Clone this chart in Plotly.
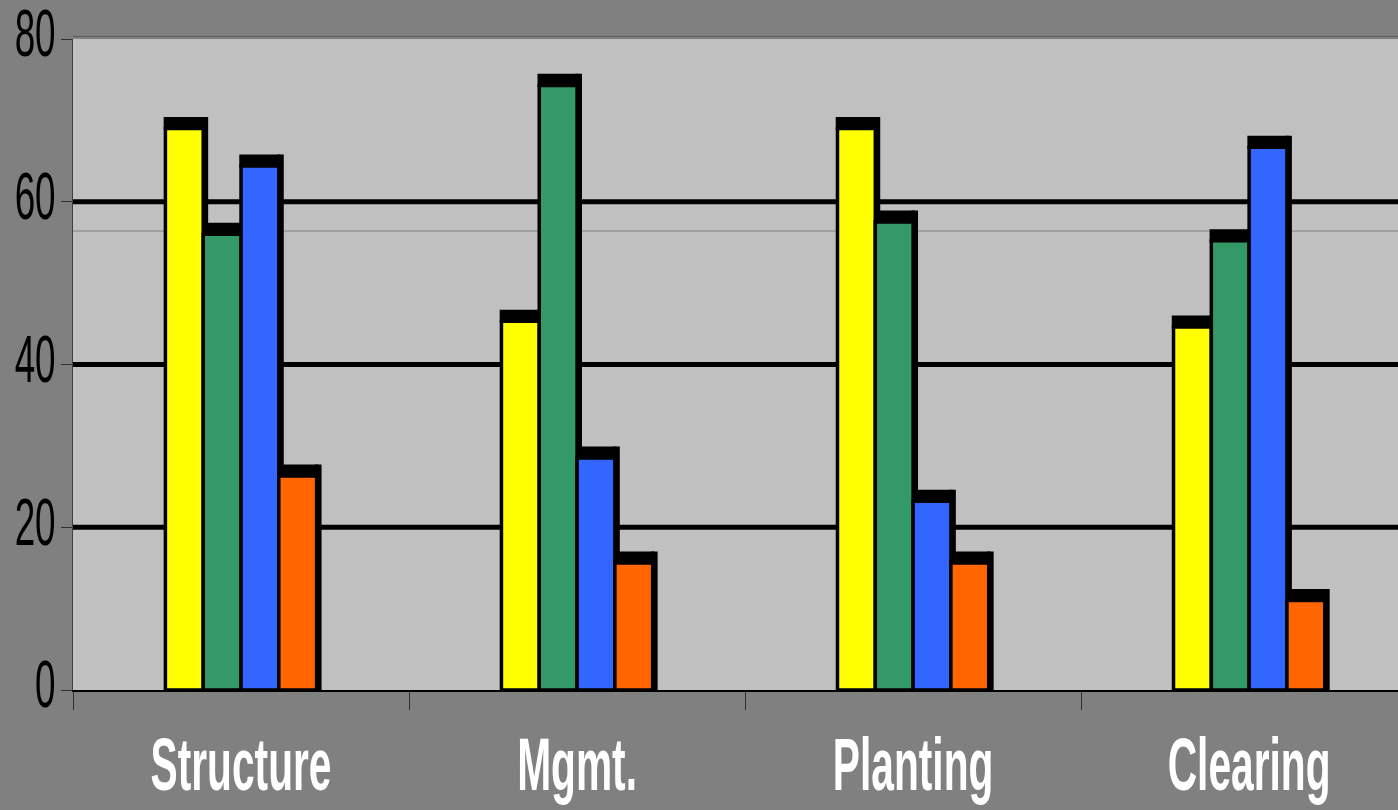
import plotly.graph_objects as go

# Category labels and the four series values (percent)
categories = ["Structure", "Mgmt.", "Planting", "Clearing"]
series_yellow = [69.0, 45.3, 69.0, 44.6]
series_green = [56.0, 74.3, 57.5, 55.2]
series_blue = [64.4, 28.5, 23.2, 66.7]
series_orange = [26.3, 15.6, 15.6, 11.0]

y_ticks = [0, 20, 40, 60, 80]
grid_levels = [20, 40, 60]
wall_line = 56.4

series = [
    (series_yellow, "#FFFF00"),
    (series_green, "#339966"),
    (series_blue, "#3366FF"),
    (series_orange, "#FF6600"),
]

BARGAP = 0.55
CAP = 1.2          # height of the black top face, in axis units
DEPTH = 0.0095     # width of the black side face, in category units
OUTLINE = 3.5

fig = go.Figure()
for vals, color in series:
    fig.add_trace(go.Bar(
        x=categories, y=vals,
        marker=dict(color=color, line=dict(color="black", width=OUTLINE)),
        hoverinfo="skip", showlegend=False,
    ))

shapes = []
# background wall gridlines
for g in grid_levels:
    shapes.append(dict(type="line", xref="paper", yref="y", x0=0, x1=1, y0=g, y1=g,
                       line=dict(color="black", width=5), layer="below"))
shapes.append(dict(type="line", xref="paper", yref="y", x0=0, x1=1, y0=wall_line, y1=wall_line,
                   line=dict(color="#808080", width=1), layer="below"))
shapes.append(dict(type="line", xref="paper", yref="paper", x0=0, x1=1, y0=1.004, y1=1.004,
                   line=dict(color="#5a5a5a", width=1), layer="below"))

# 3D top and side faces of every bar
n = len(series)
group_w = 1 - BARGAP
bar_w = group_w / n
for i, (vals, _) in enumerate(series):
    off = -group_w / 2 + (i + 0.5) * bar_w
    for c, v in enumerate(vals):
        left = c + off - bar_w / 2
        right = c + off + bar_w / 2
        shapes.append(dict(type="rect", xref="x", yref="y", x0=left, x1=right, y0=v, y1=v + CAP,
                           fillcolor="black", line=dict(color="black", width=OUTLINE), layer="between"))
        shapes.append(dict(type="rect", xref="x", yref="y", x0=right, x1=right + DEPTH, y0=0, y1=v + CAP,
                           fillcolor="black", line=dict(color="black", width=OUTLINE), layer="between"))

fig.update_layout(
    width=1398, height=810,
    margin=dict(l=73, r=0, t=39, b=120, pad=0),
    paper_bgcolor="#808080", plot_bgcolor="#C0C0C0",
    barmode="group", bargap=BARGAP, bargroupgap=0,
    shapes=shapes,
    xaxis=dict(
        type="category", range=[-0.5, 3.443],
        showgrid=False, zeroline=False,
        showline=True, linecolor="black", linewidth=2,
        ticks="outside", ticklen=18, tickwidth=1, tickcolor="#303030",
        tickson="boundaries", tickangle=0,
        tickfont=dict(family="Liberation Sans", size=74, color="white", weight="bold"),
        ticklabelstandoff=9,
        automargin=False,
    ),
    yaxis=dict(
        range=[0, 80], tickvals=y_ticks,
        showgrid=False, zeroline=False,
        showline=True, linecolor="#404040", linewidth=1,
        ticks="outside", ticklen=11, tickwidth=1, tickcolor="#303030",
        tickfont=dict(family="Liberation Sans", size=67, color="black"),
        ticklabelstandoff=-8,
        automargin=False,
    ),
)

# narrow the tick label glyphs horizontally about their anchor point
squeeze_js = """
var gd = document.getElementById('{plot_id}');
gd.querySelectorAll('.xtick text, .ytick text').forEach(function(t){
  var x = parseFloat(t.getAttribute('x')) || 0;
  var dy = t.closest('.ytick') ? -6 : 0;
  var tr = t.getAttribute('transform') || '';
  t.setAttribute('transform', tr + ' translate(' + x + ',' + dy + ') scale(0.55,1) translate(' + (-x) + ',0)');
});
"""

fig.write_html("out.html", post_script=squeeze_js, config={"displayModeBar": False})
